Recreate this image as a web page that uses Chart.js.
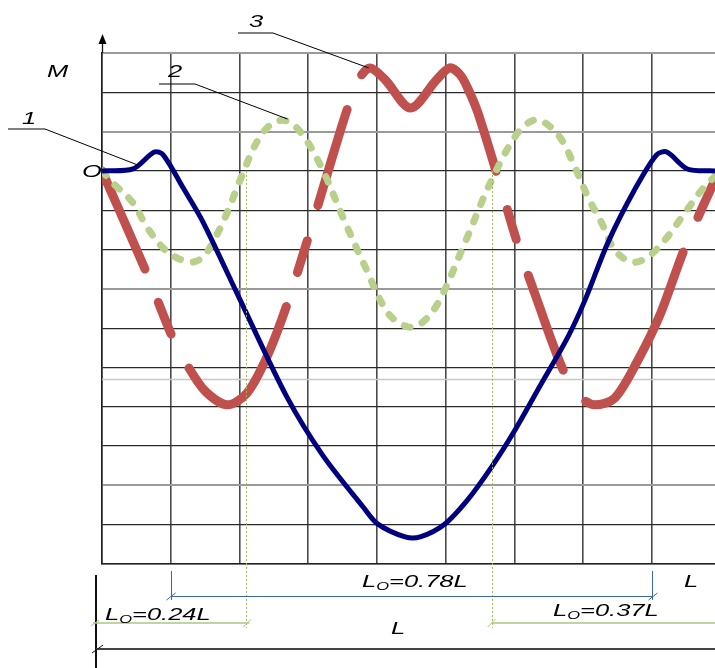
<!DOCTYPE html>
<html>
<head>
<meta charset="utf-8">
<script src="https://cdn.jsdelivr.net/npm/chart.js@4.4.1/dist/chart.umd.min.js"></script>
<style>
  html, body { margin: 0; padding: 0; background: #fff; }
  #wrap { position: relative; width: 715px; height: 668px; }
</style>
</head>
<body>
<div id="wrap"><canvas id="momentChart"></canvas></div>
<script>
// x in grid columns (the span L = 9 columns), M in grid rows, zero at "O"
const xMax = 8.92;
const yMin = -10;
const yMax = 3;
const lightRows = [3, 1, -3, -8];
const extraRow = -5.3;

// curve 1 (solid, navy)
const curve1X = [0, 0.45, 0.76, 0.89, 1.18, 1.47, 2.01, 2.69, 3.21, 3.80, 4.01, 4.41, 4.63, 4.99, 5.32, 5.67, 6.01, 6.40, 6.78, 7.03, 7.36, 7.75, 8.07, 8.22, 8.52, 8.92, 9];
const curve1Y = [0, 0.05, 0.48, 0.41, -0.43, -1.30, -3.28, -5.75, -7.23, -8.55, -8.98, -9.31, -9.31, -8.98, -8.37, -7.53, -6.59, -5.39, -4.22, -3.28, -1.83, -0.48, 0.41, 0.48, 0.05, 0, 0];

// curve 2 (short dashes, light green)
const curve2X = [0, 0.16, 0.45, 0.65, 0.89, 1.09, 1.31, 1.47, 1.61, 1.82, 2.01, 2.27, 2.49, 2.69, 2.92, 3.21, 3.51, 3.83, 4.16, 4.45, 4.65, 4.89, 5.28, 5.67, 6.05, 6.30, 6.49, 6.69, 6.88, 7.07, 7.27, 7.46, 7.71, 7.94, 8.19, 8.48, 8.73, 9];
const curve2Y = [0, -0.31, -0.81, -1.42, -1.96, -2.21, -2.32, -2.19, -1.83, -1.07, -0.23, 0.79, 1.22, 1.27, 0.92, 0.03, -1.20, -2.44, -3.61, -3.97, -3.87, -3.36, -1.83, -0.23, 0.97, 1.30, 1.17, 0.79, 0.10, -0.66, -1.32, -2.01, -2.32, -2.19, -1.76, -1.07, -0.48, 0];

// curve 3 (long dashes, red)
const curve3X = [0, 0.65, 1.03, 1.24, 1.50, 1.82, 2.11, 2.40, 2.69, 3.00, 3.30, 3.58, 3.75, 3.90, 4.12, 4.49, 4.87, 5.06, 5.21, 5.32, 5.47, 5.75, 6.04, 6.33, 6.73, 6.98, 7.17, 7.46, 7.80, 8.12, 8.48, 8.92, 9];
const curve3Y = [0, -2.60, -4.25, -4.94, -5.60, -5.95, -5.65, -4.73, -3.41, -1.70, 0.05, 1.63, 2.37, 2.62, 2.32, 1.60, 2.32, 2.62, 2.45, 2.11, 1.48, -0.10, -1.81, -3.28, -5.14, -5.78, -5.95, -5.78, -4.81, -3.66, -1.96, -0.23, 0];

// dash run of curve 3 along its path, as in the drawing (px, dash/gap)
const curve3Dash = [107, 36, 34, 39, 173, 36, 33, 37, 100, 38, 242, 40, 31, 38, 101, 39, 193, 38, 300, 40];

// where each number's leader line touches its curve
const labelTips = [[0.52, 0.15], [2.70, 1.32], [3.88, 2.62]];

// dimension marks under the chart, in grid columns
const leftZero = 2.10;    // L0 = 0.24L
const rightZero = 5.67;   // L0 = 0.37L
const midSpan = [1, 8];   // L0 = 0.78L
const dimValues = ['0.24L', '0.78L', '0.37L'];

const pts = (xs, ys) => xs.map((x, i) => ({ x: x, y: ys[i] }));

function wideText(ctx, parts, x, y) {
    ctx.save();
    ctx.translate(x, y);
    ctx.scale(1.5, 1);
    let cx = 0;
    parts.forEach(([text, size, dy]) => {
        ctx.font = `italic ${size}px "Liberation Sans", Arial, sans-serif`;
        ctx.fillText(text, cx, dy);
        cx += ctx.measureText(text).width;
    });
    ctx.restore();
}

function lo(value) {
    return [['L', 17, 0], ['O', 11, 3], ['=' + value, 17, 0]];
}

function line(ctx, x1, y1, x2, y2) {
    ctx.beginPath();
    ctx.moveTo(x1, y1);
    ctx.lineTo(x2, y2);
    ctx.stroke();
}

const sketchPlugin = {
    id: 'sketch',
    beforeDatasetsDraw(chart) {
        const { ctx, chartArea: area, scales: { y } } = chart;
        const py = Math.round(y.getPixelForValue(extraRow)) + 0.5;
        ctx.save();
        ctx.strokeStyle = '#c8c8c8';
        ctx.lineWidth = 1.5;
        line(ctx, area.left, py, area.right, py);
        ctx.restore();
    },
    afterDraw(chart) {
        const { ctx, chartArea: area, scales: { x, y } } = chart;
        const zeroY = y.getPixelForValue(0);
        ctx.save();

        // arrow on the M axis
        ctx.strokeStyle = '#111';
        ctx.lineWidth = 1.3;
        line(ctx, area.left + 0.5, area.top, area.left + 0.5, 42);
        ctx.fillStyle = '#000';
        ctx.beginPath();
        ctx.moveTo(area.left + 0.5, 34);
        ctx.lineTo(area.left - 3.5, 44);
        ctx.lineTo(area.left + 4.5, 44);
        ctx.closePath();
        ctx.fill();

        // green dotted verticals
        ctx.strokeStyle = '#9bbb59';
        ctx.lineWidth = 1;
        ctx.setLineDash([2, 2]);
        [leftZero, rightZero].forEach(v => {
            const px = Math.round(x.getPixelForValue(v)) + 0.5;
            line(ctx, px, zeroY, px, 628);
        });
        ctx.setLineDash([]);

        // leader lines for curve numbers
        ctx.strokeStyle = '#000';
        ctx.lineWidth = 1;
        const starts = [[8, 129, 45], [159, 84, 195], [238, 33, 273]];
        starts.forEach(([x1, ly, x2], i) => {
            const tx = x.getPixelForValue(labelTips[i][0]);
            const ty = y.getPixelForValue(labelTips[i][1]);
            ctx.beginPath();
            ctx.moveTo(x1, ly);
            ctx.lineTo(x2, ly);
            ctx.lineTo(tx, ty);
            ctx.stroke();
        });

        ctx.fillStyle = '#000';
        wideText(ctx, [['1', 17, 0]], 22, 124);
        wideText(ctx, [['2', 17, 0]], 168, 77);
        wideText(ctx, [['3', 17, 0]], 249, 27);
        wideText(ctx, [['M', 17, 0]], 47, 77);
        wideText(ctx, [['O', 17, 0]], 82, 177);

        // L dimension (black)
        ctx.strokeStyle = '#111';
        ctx.lineWidth = 2;
        line(ctx, 96, 575, 96, 668);
        ctx.strokeStyle = '#444';
        line(ctx, 96, 649, chart.width, 649);
        ctx.strokeStyle = '#111';
        ctx.lineWidth = 1;
        line(ctx, 92, 653, 103, 645);

        // L0 = 0.78L (blue)
        const b1 = Math.round(x.getPixelForValue(midSpan[0])) + 0.5;
        const b2 = Math.round(x.getPixelForValue(midSpan[1])) + 0.5;
        ctx.strokeStyle = '#3d65a8';
        ctx.lineWidth = 1;
        line(ctx, b1, 571, b1, 600);
        line(ctx, b2, 571, b2, 600);
        line(ctx, b1, 596.5, b2, 596.5);
        line(ctx, b1 - 5, 600, b1 + 4, 593);
        line(ctx, b2 - 4, 600, b2 + 5, 593);

        // L0 = 0.24L and 0.37L (green)
        const g1 = x.getPixelForValue(leftZero);
        const g2 = x.getPixelForValue(rightZero);
        ctx.strokeStyle = '#a9c77c';
        ctx.lineWidth = 1.5;
        line(ctx, 93, 623, g1 + 3, 623);
        line(ctx, g2, 623, chart.width, 623);
        ctx.lineWidth = 1;
        line(ctx, 91, 626, 99, 620);
        line(ctx, g1 - 3, 627, g1 + 5, 619);
        line(ctx, g2 - 4, 627, g2 + 4, 619);

        ctx.fillStyle = '#000';
        wideText(ctx, lo(dimValues[0]), 105, 620);
        wideText(ctx, lo(dimValues[1]), 362, 587);
        wideText(ctx, lo(dimValues[2]), 553, 616);
        wideText(ctx, [['L', 17, 0]], 684, 587);
        wideText(ctx, [['L', 17, 0]], 391, 634);

        ctx.restore();
    }
};

const ctx = document.getElementById('momentChart').getContext('2d');
new Chart(ctx, {
    type: 'line',
    data: {
        datasets: [
            {
                label: '1',
                data: pts(curve1X, curve1Y),
                borderColor: '#00007f',
                borderWidth: 5,
                tension: 0.3,
                order: 1
            },
            {
                label: '2',
                data: pts(curve2X, curve2Y),
                borderColor: '#b9d08c',
                borderWidth: 7,
                borderDash: [6, 13],
                borderCapStyle: 'round',
                tension: 0.35,
                order: 2
            },
            {
                label: '3',
                data: pts(curve3X, curve3Y),
                borderColor: '#c0504d',
                borderWidth: 9,
                borderDash: curve3Dash,
                borderCapStyle: 'round',
                tension: 0.3,
                order: 3
            }
        ]
    },
    options: {
        responsive: true,
        maintainAspectRatio: false,
        animation: false,
        layout: { padding: { left: 102, top: 53, right: 0, bottom: 104 } },
        elements: {
            point: { radius: 0 },
            line: { borderJoinStyle: 'round' }
        },
        plugins: {
            legend: { display: false },
            tooltip: { enabled: false }
        },
        scales: {
            x: {
                type: 'linear',
                min: 0,
                max: xMax,
                afterFit: s => { s.height = 0; },
                ticks: { display: false, stepSize: 1, includeBounds: false },
                grid: { color: '#4a4a4a', lineWidth: 1.6, drawTicks: false },
                border: { display: true, color: '#222', width: 1.5 }
            },
            y: {
                type: 'linear',
                min: yMin,
                max: yMax,
                afterFit: s => { s.width = 0; },
                ticks: { display: false, stepSize: 1 },
                grid: {
                    color: c => lightRows.includes(c.tick && c.tick.value) ? '#9a9a9a' : '#2a2a2a',
                    lineWidth: c => lightRows.includes(c.tick && c.tick.value) ? 2 : 1.3,
                    drawTicks: false
                },
                border: { display: true, color: '#222', width: 1.5 }
            }
        }
    },
    plugins: [sketchPlugin]
});
</script>
</body>
</html>
